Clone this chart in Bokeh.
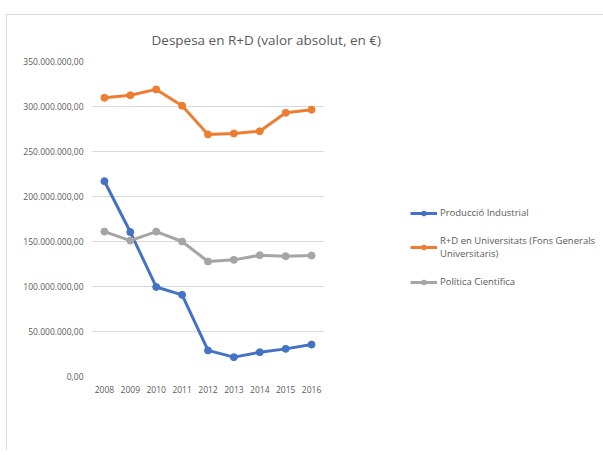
from bokeh.plotting import figure
from bokeh.models import (ColumnDataSource, Range1d, FixedTicker, Legend, LegendItem, Title)
from bokeh.embed import file_html
from bokeh.resources import INLINE

# R&D spending series (euros)
years = ["2008", "2009", "2010", "2011", "2012", "2013", "2014", "2015", "2016"]
produccio_industrial = [217e6, 160.5e6, 99.5e6, 90.7e6, 29e6, 21.5e6, 27e6, 30.7e6, 35.5e6]
universitats = [309.7e6, 312.5e6, 319e6, 300.8e6, 269e6, 270e6, 272.5e6, 293e6, 296.5e6]
politica_cientifica = [161e6, 151e6, 161e6, 150e6, 127.8e6, 129.6e6, 134.8e6, 133.7e6, 134.4e6]

y_ticks = [0, 50e6, 100e6, 150e6, 200e6, 250e6, 300e6, 350e6]
y_tick_labels = ["0,00", "50.000.000,00", "100.000.000,00", "150.000.000,00",
                 "200.000.000,00", "250.000.000,00", "300.000.000,00", "350.000.000,00"]

series_names = ["Producció Industrial",
                "R+D en Universitats (Fons Generals\nUniversitaris)",
                "Política Científica"]
colors = ["#4472C4", "#ED7D31", "#A5A5A5"]

FONT = "Open Sans"
TEXT = "#595959"

p = figure(
    frame_width=233, frame_height=315,
    x_range=years, y_range=Range1d(0, 350e6),
    output_backend="svg", toolbar_location=None,
    min_border_left=84, min_border_top=46, min_border_right=273, min_border_bottom=74,
)
p.margin = (14, 0, 0, 6)
p.styles = {"border-left": "1px solid #d9d9d9", "border-top": "1px solid #d9d9d9"}
p.outline_line_color = None
p.background_fill_color = "white"
p.border_fill_color = "white"

p.xgrid.grid_line_color = None
p.ygrid.grid_line_color = "#d9d9d9"
p.ygrid.grid_line_width = 1

p.yaxis.ticker = FixedTicker(ticks=y_ticks)
p.yaxis.major_label_overrides = {t: l for t, l in zip(y_ticks, y_tick_labels)}
for ax in (p.xaxis[0], p.yaxis[0]):
    ax.axis_line_color = None
    ax.major_tick_line_color = None
    ax.minor_tick_line_color = None
    ax.major_tick_out = 0
    ax.major_tick_in = 0
    ax.major_label_text_font = FONT
    ax.major_label_text_font_size = "8.5px"
    ax.major_label_text_color = TEXT
p.yaxis.major_label_standoff = 8
p.xaxis.major_label_standoff = 9

renderers = []
for vals, c in zip([produccio_industrial, universitats, politica_cientifica], colors):
    src = ColumnDataSource(dict(x=years, y=vals))
    l = p.line("x", "y", source=src, line_color=c, line_width=3)
    s = p.scatter("x", "y", source=src, size=7, fill_color=c, line_color=c)
    renderers.append([l, s])

legend = Legend(items=[LegendItem(label=n, renderers=r) for n, r in zip(series_names, renderers)],
                location=(86, 88), padding=0, margin=0, spacing=15,
                border_line_color=None, background_fill_alpha=0,
                glyph_width=27, glyph_height=12, label_height=12, label_standoff=3,
                label_text_font=FONT, label_text_font_size="9.5px", label_text_color=TEXT)
p.add_layout(legend, "right")

p.title = Title(text="Despesa  en R+D  (valor absolut, en €)", align="left", offset=60,
                vertical_align="top", text_font=FONT, text_font_size="13.5px",
                text_font_style="normal", text_color=TEXT, standoff=21)

html = file_html(p, INLINE)
html = html.replace("<head>", "<head><style>html,body{margin:0;overflow:hidden}</style>", 1)
open("out.html", "w").write(html)
